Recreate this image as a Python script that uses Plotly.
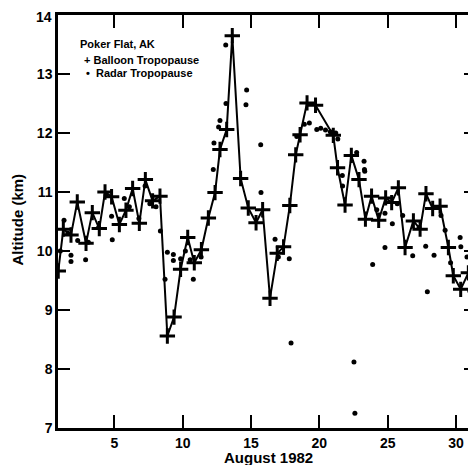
import plotly.graph_objects as go

# Balloon tropopause (day of August 1982, altitude km)
balloon_day = [0.9, 1.27, 1.83, 2.29, 2.93, 3.39, 3.90, 4.32, 4.80, 5.37, 5.85, 6.34, 6.83, 7.27,
               7.80, 8.34, 8.88, 9.37, 9.85, 10.37, 10.85, 11.37, 11.88, 12.37, 12.73, 13.22,
               13.63, 14.24, 14.80, 15.37, 15.85, 16.39, 16.92, 17.38, 17.84, 18.27, 18.59,
               19.10, 19.72, 21.02, 21.33, 21.88, 22.34, 22.90, 23.37, 23.82, 24.34, 24.85,
               25.29, 25.78, 26.27, 26.88, 27.37, 27.80, 28.29, 28.83, 29.44, 29.80, 30.34,
               30.90, 31.39]
balloon_alt = [9.66, 10.37, 10.27, 10.83, 10.13, 10.65, 10.38, 11.00, 10.92, 10.45, 10.69, 11.06,
               10.47, 11.21, 10.85, 10.93, 8.56, 8.88, 9.69, 10.23, 9.80, 10.02, 10.56, 10.99,
               11.72, 12.06, 13.65, 11.23, 10.73, 10.48, 10.70, 9.20, 9.96, 10.07, 10.77, 11.63,
               11.97, 12.51, 12.47, 11.96, 11.41, 10.78, 11.62, 11.21, 10.54, 10.93, 10.52,
               10.90, 10.82, 11.07, 10.06, 10.51, 10.37, 10.97, 10.72, 10.76, 10.06, 9.58,
               9.35, 9.63, 9.32]

# Radar tropopause
radar_day = [1.05, 1.32, 1.60, 1.83, 1.83, 2.32, 2.90, 3.10, 3.85, 4.40, 4.80, 4.85, 5.73,
             6.10, 6.80, 7.25, 7.60, 8.05, 8.37, 8.71, 8.88, 9.32, 9.32, 9.85, 10.20, 10.55,
             10.78, 11.35, 12.24, 12.29, 12.63, 12.73, 13.17, 13.15, 14.63, 14.68, 15.71,
             15.73, 16.76, 17.00, 17.80, 17.93, 18.35, 18.90, 19.27, 19.81, 20.10, 20.45,
             20.80, 21.20, 21.35, 21.68, 21.70, 22.53, 22.60, 22.73, 23.27, 23.30, 23.32,
             23.90, 24.20, 24.80, 24.80, 25.34, 25.70, 26.10, 26.83, 27.30, 27.78, 27.90,
             28.39, 28.90, 29.20, 29.60, 30.30, 30.35, 30.80, 31.20]
radar_alt = [10.00, 10.52, 10.30, 9.93, 9.82, 10.18, 9.85, 10.15, 10.40, 10.95, 10.59, 10.19,
             10.89, 10.75, 10.55, 11.10, 10.80, 10.75, 10.34, 9.52, 9.98, 9.94, 9.84, 9.87,
             10.00, 9.85, 9.52, 9.90, 11.38, 11.83, 12.10, 12.21, 12.50, 13.49, 12.48, 12.73,
             11.80, 10.99, 10.20, 9.90, 9.87, 8.44, 11.94, 12.15, 12.17, 12.06, 12.08, 12.05,
             12.02, 12.00, 11.90, 11.28, 11.10, 8.12, 7.25, 11.67, 11.52, 11.38, 11.35,
             9.77, 10.70, 10.64, 10.06, 10.46, 10.80, 10.60, 9.92, 10.40, 10.08, 9.31,
             9.93, 10.60, 10.35, 9.80, 10.23, 10.07, 9.90, 9.70]

x_ticks = [5, 10, 15, 20, 25, 30]
y_ticks = [7, 8, 9, 10, 11, 12, 13, 14]
y_top_label = "14"

FONT = "Liberation Sans, Arial, Helvetica, sans-serif"

fig = go.Figure()
fig.add_trace(go.Scatter(
    x=radar_day, y=radar_alt, mode="markers",
    marker=dict(symbol="circle", size=5, color="black"),
    name="Radar Tropopause", showlegend=False))
fig.add_trace(go.Scatter(
    x=balloon_day, y=balloon_alt, mode="lines+markers",
    line=dict(color="black", width=2),
    marker=dict(symbol="cross-thin", size=11, color="black",
                line=dict(color="black", width=3)),
    name="Balloon Tropopause", showlegend=False))
# invisible trace to carry right-side ticks
fig.add_trace(go.Scatter(x=[None], y=[None], yaxis="y2", showlegend=False,
                         hoverinfo="skip"))

fig.update_layout(
    width=468, height=457,
    margin=dict(l=50, r=0, t=7, b=37),
    paper_bgcolor="white", plot_bgcolor="white",
    font=dict(family=FONT, color="black", size=13, weight="bold"),
    xaxis=dict(range=[0.88, 31.46], tickvals=x_ticks, ticks="inside", ticklen=13,
               tickwidth=2, tickcolor="black", showline=True, linewidth=2.5,
               linecolor="black", mirror="ticks", showgrid=False, zeroline=False,
               tickfont=dict(size=14, family=FONT, weight="bold")),
    yaxis=dict(range=[7, 14], tickvals=y_ticks[:-1], ticks="inside", ticklen=12,
               tickwidth=2, tickcolor="black", showline=True, linewidth=2.5,
               linecolor="black", showgrid=False, zeroline=False,
               tickfont=dict(size=14, family=FONT, weight="bold")),
    yaxis2=dict(range=[7, 14], tickvals=y_ticks, ticks="inside", ticklen=12,
                tickwidth=2, tickcolor="black", overlaying="y", side="right",
                showline=False, showgrid=False, zeroline=False,
                showticklabels=False),
    annotations=[
        dict(text=y_top_label, xref="paper", yref="y", x=-0.012, y=y_ticks[-1],
             showarrow=False, xanchor="right", yanchor="top", yshift=7,
             borderpad=0,
             font=dict(size=14, family=FONT, weight="bold")),
        dict(text="August 1982", xref="x", yref="paper", x=16.28, y=-0.072,
             showarrow=False, xanchor="center", yanchor="middle",
             font=dict(size=15, family=FONT, weight="bold")),
        dict(text="Altitude (km)", xref="paper", yref="y", x=-0.096, y=10.53,
             textangle=-90, showarrow=False, xanchor="center", yanchor="middle",
             font=dict(size=15, family=FONT, weight="bold")),
        dict(text="Poker Flat, AK", xref="paper", yref="paper", x=0.048, y=0.930,
             showarrow=False, xanchor="left", yanchor="middle",
             font=dict(size=11, family=FONT, weight="bold")),
        dict(text="+ Balloon Tropopause", xref="paper", yref="paper", x=0.057, y=0.891,
             showarrow=False, xanchor="left", yanchor="middle",
             font=dict(size=11, family=FONT, weight="bold")),
        dict(text="•  Radar Tropopause", xref="paper", yref="paper", x=0.062, y=0.860,
             showarrow=False, xanchor="left", yanchor="middle",
             font=dict(size=11, family=FONT, weight="bold")),
    ],
)

fig.write_html("out.html")
